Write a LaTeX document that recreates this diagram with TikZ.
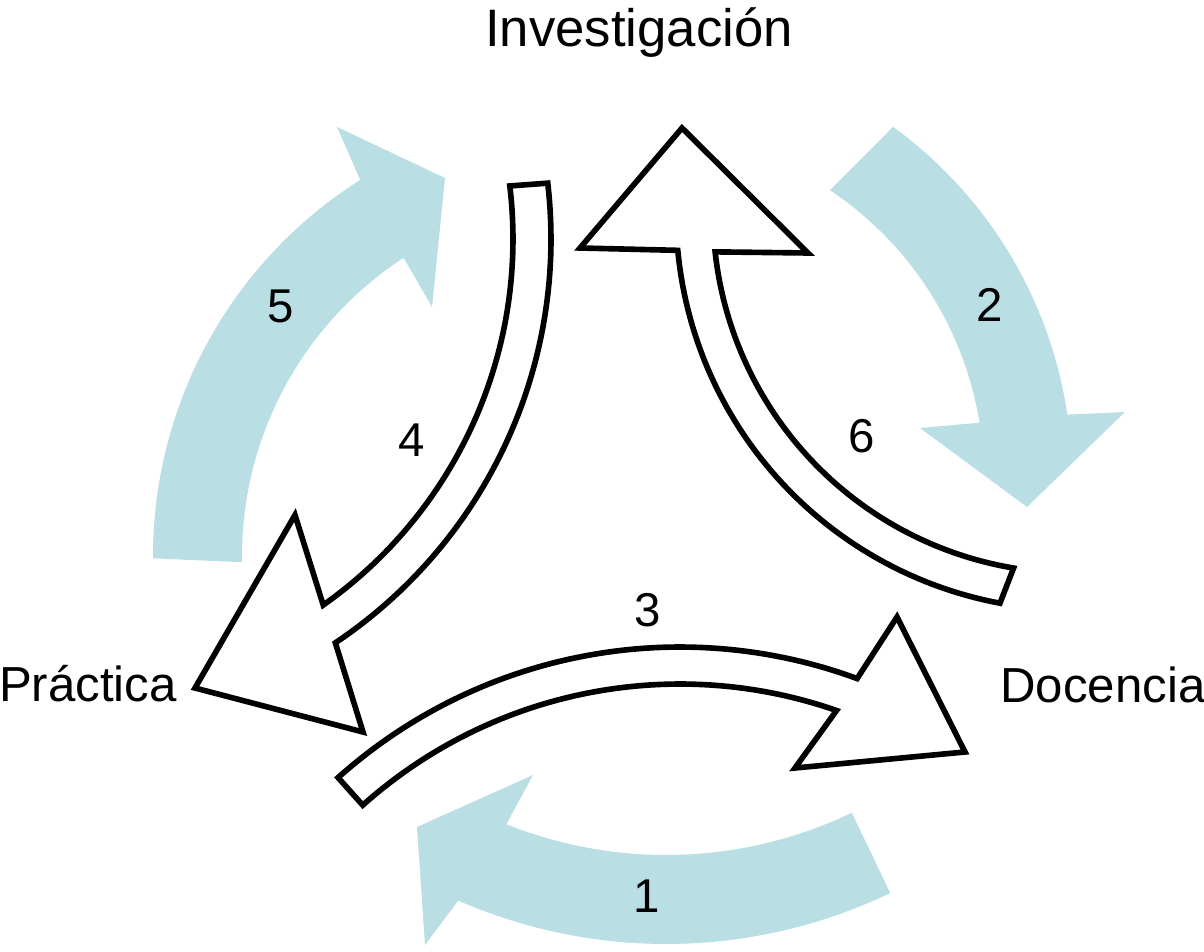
\documentclass[tikz,border=0pt]{standalone}
\usepackage{fontspec}
\setmainfont{Liberation Sans}
\definecolor{arrowblue}{RGB}{185,222,227}
\tikzset{
  bluearrow/.style={fill=arrowblue, draw=none},
  outlinearrow/.style={draw=black, fill=white, line width=3.2pt, line join=miter, miter limit=10},
  wordlabel/.style={font=\fontsize{28}{33}\selectfont, inner sep=0pt, anchor=base},
  numlabel/.style={font=\fontsize{27}{32}\selectfont, inner sep=0pt, anchor=base},
  arcplot/.style={samples=60, variable=\t}
}
\begin{document}
\begin{tikzpicture}[x=0.02cm, y=-0.02cm]
\useasboundingbox (0,0) rectangle (1204,952);

% ---- blue arrows ----
% arrow 5 (left, upward)
\fill[bluearrow] plot[arcplot, domain=180.3:122.3] ({598+445*cos(\t)},{556-445*sin(\t)})
  -- (337,127) -- (445,178) -- (432,307)
  -- plot[arcplot, domain=123.1:181] ({598+356*cos(\t)},{556-356*sin(\t)}) -- cycle;
% arrow 2 (right, downward)
\fill[bluearrow] plot[arcplot, domain=54:8.4] ({638+434*cos(\t)},{478-434*sin(\t)})
  -- (1125,412) -- (1027,507) -- (920,428)
  -- plot[arcplot, domain=9.2:56.3] ({638+346*cos(\t)},{478-346*sin(\t)}) -- cycle;
% arrow 1 (bottom, leftward)
\fill[bluearrow] plot[arcplot, domain=-64.4:-113.6] ({666+519*cos(\t)},{425-519*sin(\t)})
  -- (425,945) -- (417,827) -- (533,775)
  -- plot[arcplot, domain=-111.8:-64.4] ({666+430*cos(\t)},{425-430*sin(\t)}) -- cycle;

% ---- outlined arrows ----
% arrow 6 (to Investigacion)
\draw[outlinearrow] plot[arcplot, domain=259.4:185.4] ({1073+397*cos(\t)},{213-397*sin(\t)})
  -- (580,248) -- (682,128) -- (808,253)
  -- plot[arcplot, domain=186.2:260.5] ({1073+360*cos(\t)},{213-360*sin(\t)}) -- cycle;
% arrow 4 (to Practica)
\draw[outlinearrow] plot[arcplot, domain=6.6:-56.2] ({65+486*cos(\t)},{239-486*sin(\t)})
  -- (363,732) -- (195,688) -- (295,515)
  -- plot[arcplot, domain=-54.8:6.8] ({65+448*cos(\t)},{239-448*sin(\t)}) -- cycle;
% arrow 3 (to Docencia)
\draw[outlinearrow] plot[arcplot, domain=131.8:69.8] ({680+513*cos(\t)},{1160-513*sin(\t)})
  -- (897,617) -- (965,752) -- (795,768)
  -- plot[arcplot, domain=70.8:131.8] ({680+476*cos(\t)},{1160-476*sin(\t)}) -- cycle;

% ---- labels ----
\node[wordlabel, font=\fontsize{30}{35}\selectfont] (inv) at (639,47) {Investigación};
\node[wordlabel] (doc) at (1103,703) {Docencia};
\node[wordlabel] (pra) at (88,702) {Práctica};

\node[numlabel] (n1) at (647,912) {1};
\node[numlabel] (n2) at (990,322) {2};
\node[numlabel] (n3) at (648,627) {3};
\node[numlabel] (n4) at (412,457) {4};
\node[numlabel] (n5) at (281,323) {5};
\node[numlabel] (n6) at (862,453) {6};
\end{tikzpicture}
\end{document}
